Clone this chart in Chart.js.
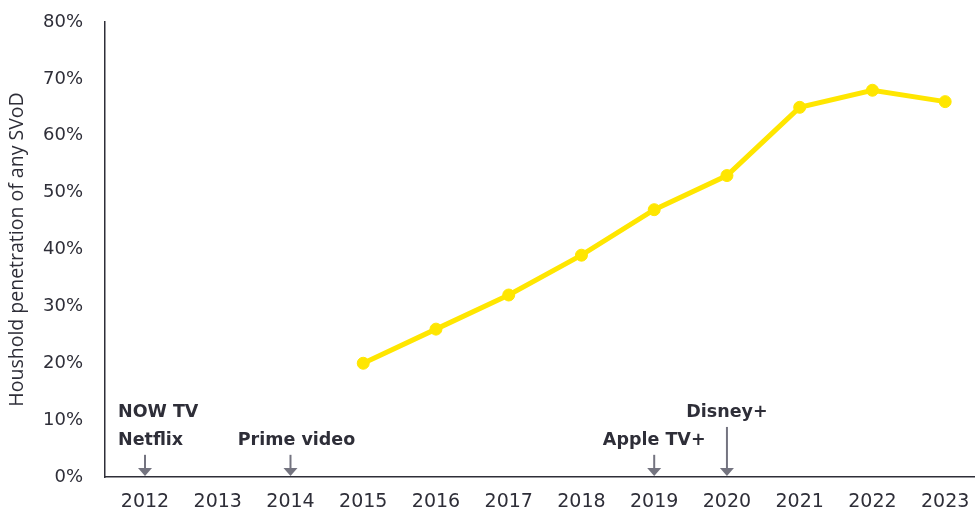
<!DOCTYPE html>
<html>
<head>
<meta charset="utf-8">
<script src="https://cdn.jsdelivr.net/npm/chart.js@4/dist/chart.umd.min.js"></script>
<style>
  html, body { margin: 0; padding: 0; background: #fff; }
  #wrap { width: 975px; height: 512px; position: relative; }
</style>
</head>
<body>
<div id="wrap"><canvas id="chart"></canvas></div>
<script>
// Chart data
const years = [2015, 2016, 2017, 2018, 2019, 2020, 2021, 2022, 2023];
const penetration = [20, 26, 32, 39, 47, 53, 65, 68, 66];

// Service launch annotations
const launchYears  = [2012, 2014, 2019, 2020];
const launchLabels = [['NOW TV', 'Netflix'], ['Prime video'], ['Apple TV+'], ['Disney+']];
const arrowTops    = [3.9, 3.9, 3.9, 8.8];

const yTicks = [0, 10, 20, 30, 40, 50, 60, 70, 80];

const dark = '#2e2e38';
const arrowGrey = '#747480';

// draws the launch arrows and the bold labels above them
const launchPlugin = {
  id: 'launches',
  afterDatasetsDraw(chart) {
    const ctx = chart.ctx;
    const x = chart.scales.x, y = chart.scales.y;
    ctx.save();
    launchYears.forEach(function(yr, i) {
      const px = x.getPixelForValue(yr);
      const top = y.getPixelForValue(arrowTops[i]);
      const bottom = y.getPixelForValue(0);
      ctx.strokeStyle = arrowGrey;
      ctx.fillStyle = arrowGrey;
      ctx.lineWidth = 2;
      ctx.beginPath();
      ctx.moveTo(px, top);
      ctx.lineTo(px, bottom - 8);
      ctx.stroke();
      ctx.beginPath();
      ctx.moveTo(px - 7, bottom - 9);
      ctx.lineTo(px + 7, bottom - 9);
      ctx.lineTo(px, bottom - 1);
      ctx.closePath();
      ctx.fill();

      ctx.fillStyle = dark;
      ctx.font = 'bold 17.5px "DejaVu Sans"';
      ctx.textBaseline = 'middle';
      const lines = launchLabels[i];
      lines.forEach(function(txt, j) {
        const ly = top - 14 - (lines.length - 1 - j) * 28;
        if (lines.length > 1) {
          ctx.textAlign = 'left';
          ctx.fillText(txt, px - 27, ly);
        } else {
          ctx.textAlign = 'center';
          ctx.fillText(txt, px + (yr === 2014 ? 6 : 0), ly);
        }
      });
    });
    ctx.restore();
  }
};

new Chart(document.getElementById('chart'), {
  type: 'line',
  data: {
    datasets: [{
      data: years.map(function(yr, i) { return { x: yr, y: penetration[i] }; }),
      borderColor: '#ffe600',
      backgroundColor: '#ffe600',
      borderWidth: 5,
      pointRadius: 6,
      pointBorderWidth: 1,
      pointHoverRadius: 6,
      tension: 0
    }]
  },
  options: {
    responsive: true,
    maintainAspectRatio: false,
    animation: false,
    layout: { autoPadding: false, padding: { top: 22, right: 0, left: 6, bottom: 0 } },
    plugins: {
      legend: { display: false },
      tooltip: { enabled: false }
    },
    scales: {
      x: {
        type: 'linear',
        min: 2011.45,
        max: 2023.41,
        grid: { display: false, drawTicks: false },
        border: { display: true, color: dark, width: 1.5 },
        ticks: {
          stepSize: 1,
          includeBounds: false,
          color: dark,
          padding: 14,
          font: { family: 'DejaVu Sans', size: 19 },
          callback: function(v) { return String(v); }
        },
        afterFit: function(scale) {
          scale.height = 35;
          scale.paddingLeft = 0;
          scale.paddingRight = 0;
        }
      },
      y: {
        min: 0,
        max: 80,
        afterBuildTicks: function(scale) {
          scale.ticks = yTicks.map(function(v) { return { value: v }; });
        },
        grid: { display: false, drawTicks: false },
        border: { display: true, color: dark, width: 1.5 },
        ticks: {
          color: dark,
          padding: 22,
          font: { family: 'DejaVu Sans', size: 18 },
          callback: function(v) { return v + '%'; }
        },
        title: {
          display: true,
          text: 'Houshold penetration of any SVoD',
          color: dark,
          font: { family: 'Open Sans', size: 19.5 },
          padding: { top: 0, bottom: 11 }
        },
        afterFit: function(scale) {
          scale.width = 99;
          scale.paddingTop = 0;
          scale.paddingBottom = 0;
        }
      }
    }
  },
  plugins: [launchPlugin]
});
</script>
</body>
</html>
